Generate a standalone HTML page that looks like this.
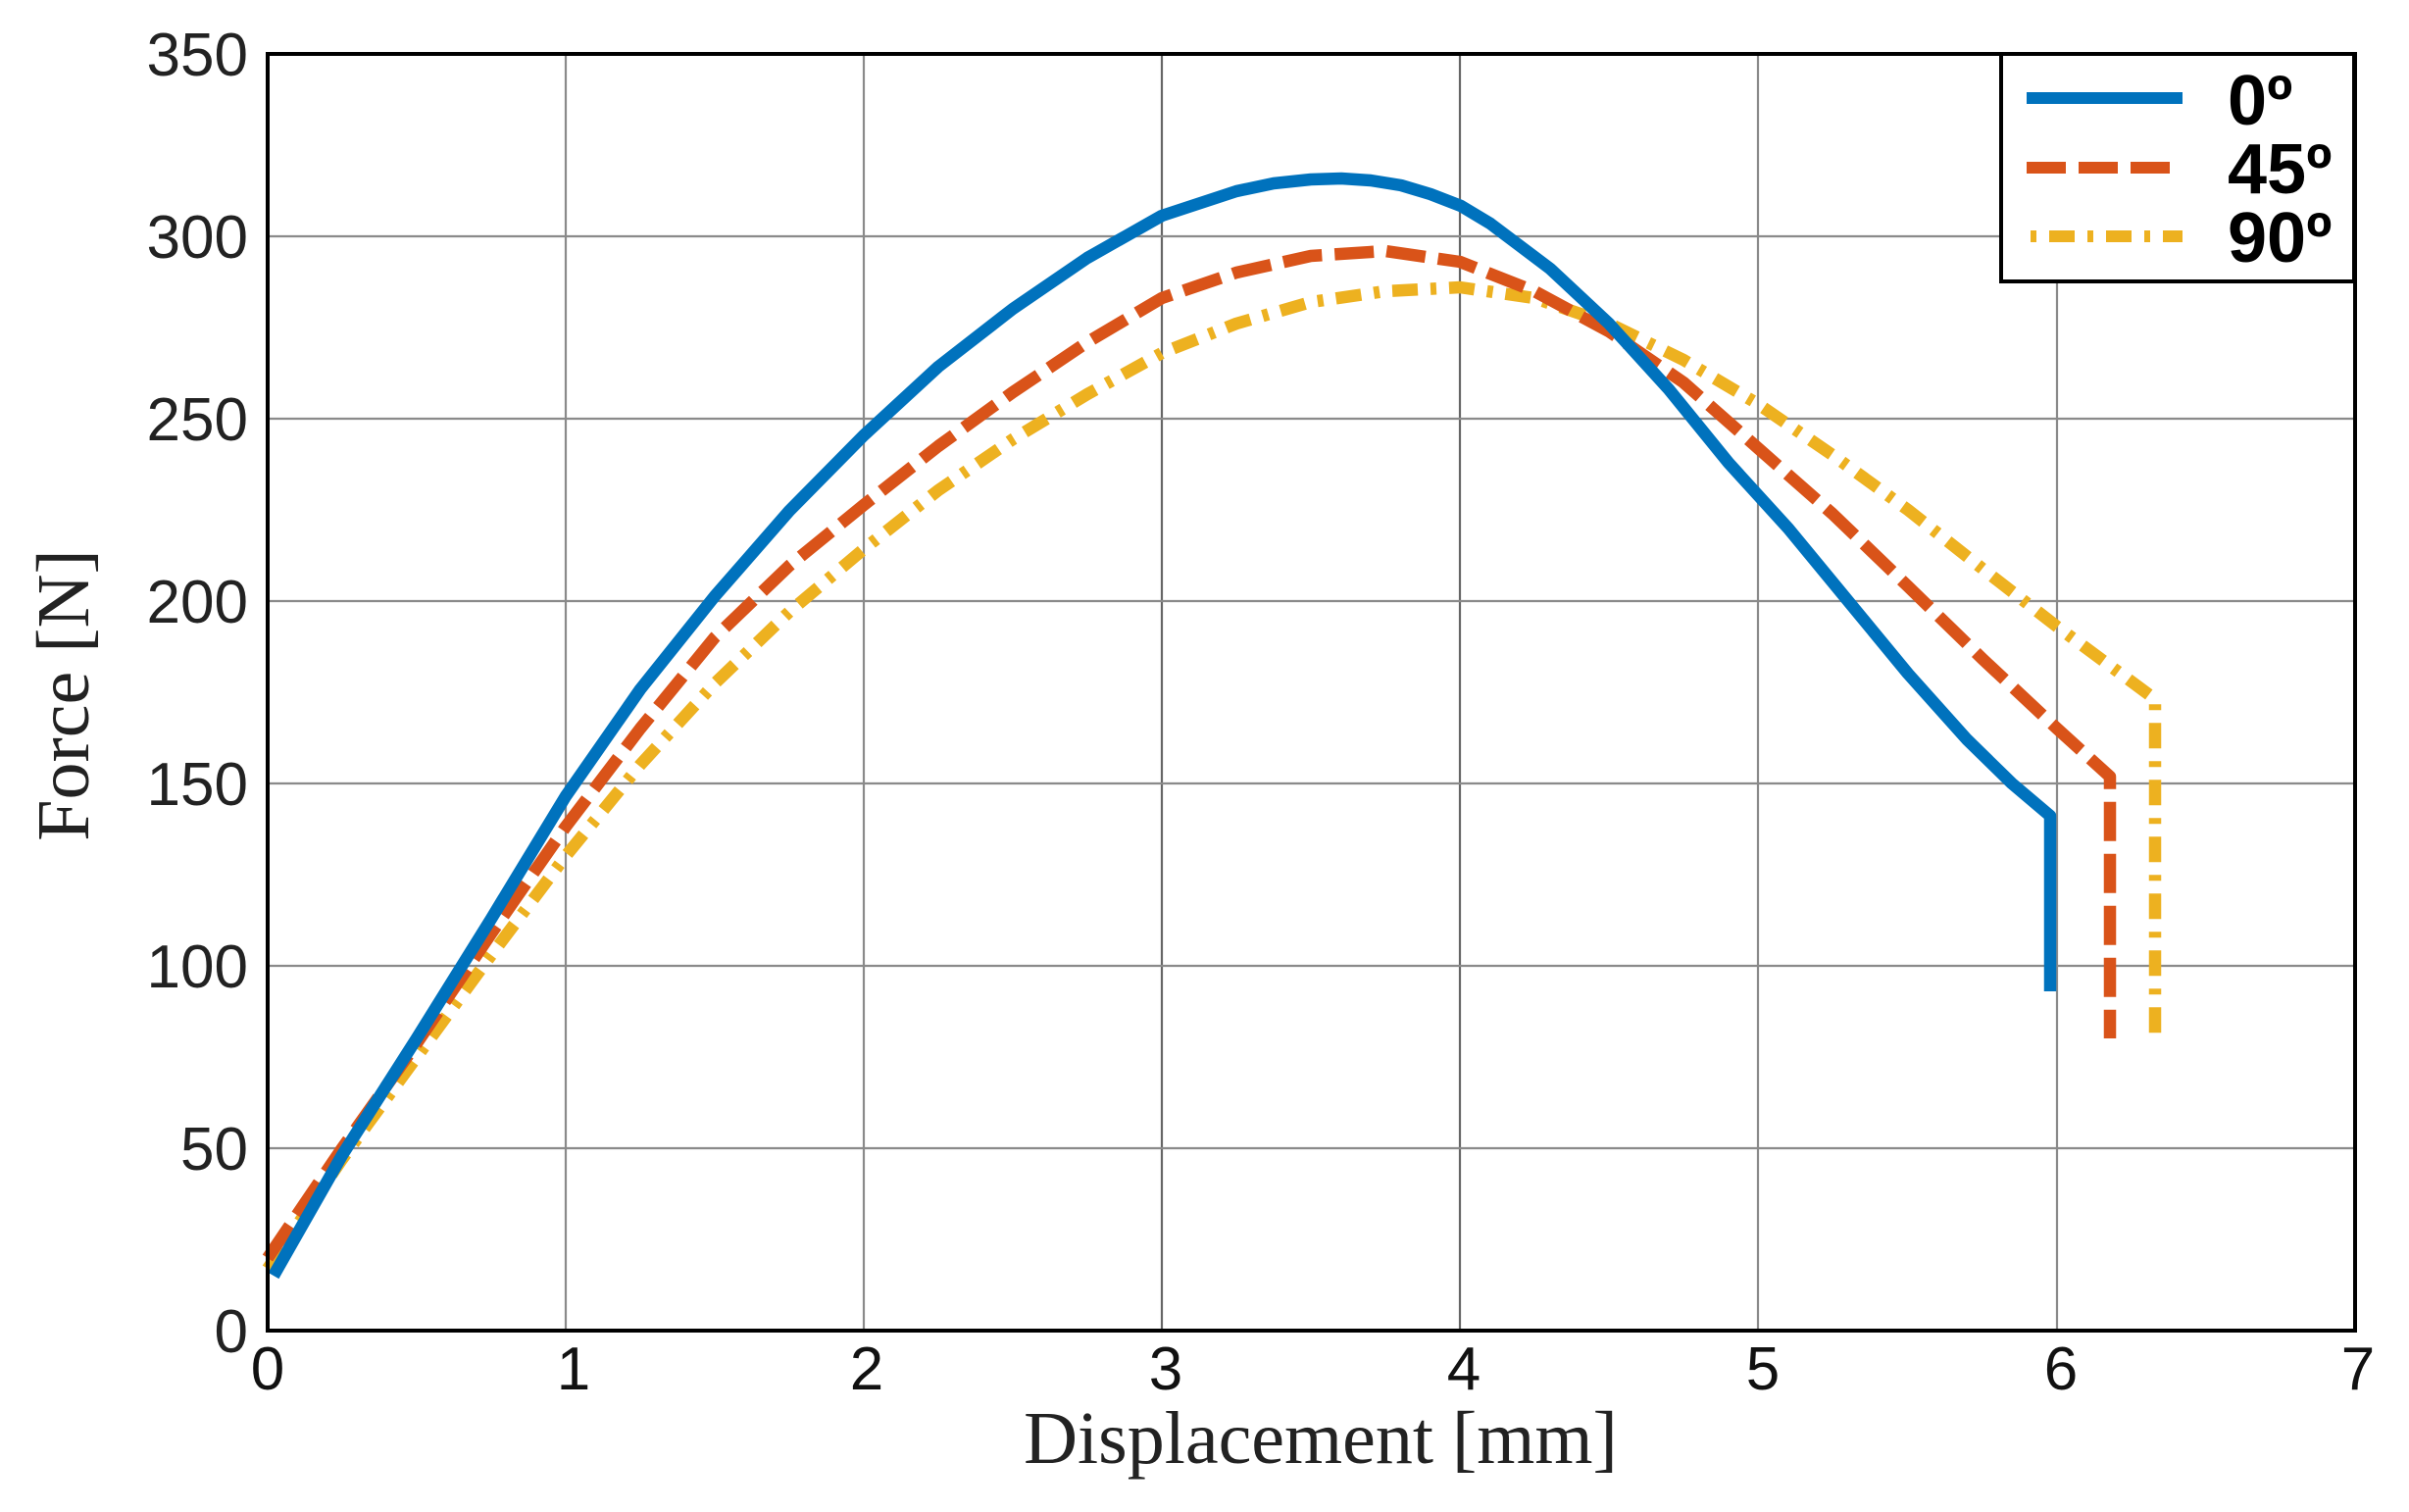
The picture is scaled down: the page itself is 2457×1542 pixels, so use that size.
<!DOCTYPE html>
<html><head><meta charset="utf-8"><style>
html,body{margin:0;padding:0;background:#fff;}
svg{display:block;}
</style></head><body>
<svg width="2457" height="1542" viewBox="0 0 2457 1542" xmlns="http://www.w3.org/2000/svg">
<rect width="2457" height="1542" fill="#fff"/>
<g stroke="#8a8a8a" stroke-width="2.2">
<line x1="577" y1="55" x2="577" y2="1357"/>
<line x1="881" y1="55" x2="881" y2="1357"/>
<line x1="1185" y1="55" x2="1185" y2="1357" stroke="#666"/>
<line x1="1489" y1="55" x2="1489" y2="1357" stroke="#666"/>
<line x1="1793" y1="55" x2="1793" y2="1357"/>
<line x1="2098" y1="55" x2="2098" y2="1357"/>
<line x1="273" y1="1171" x2="2402" y2="1171"/>
<line x1="273" y1="985" x2="2402" y2="985"/>
<line x1="273" y1="799" x2="2402" y2="799"/>
<line x1="273" y1="613" x2="2402" y2="613"/>
<line x1="273" y1="427" x2="2402" y2="427"/>
<line x1="273" y1="241" x2="2402" y2="241"/>
</g>
<g fill="none" stroke-width="12.5" stroke-linejoin="round">
<polyline stroke="#edb120" stroke-dasharray="26,13,6,13" points="273,1294 349,1182 425,1078 501,974 577,873 653,780 729,697 805,624 881,560 957,500 1033,448 1109,402 1185,360 1261,330 1337,308 1413,297 1489,293 1565,304 1641,330 1717,367 1793,412 1869,464 1946,520 2022,580 2098,639 2198,713 2198,1059"/>
<polyline stroke="#d95319" stroke-dasharray="40,13" points="273,1283 349,1171 425,1064 501,952 577,843 653,743 729,650 805,577 881,515 957,455 1033,400 1109,349 1185,304 1261,278 1337,261 1413,256 1489,267 1565,297 1641,338 1717,390 1793,457 1869,524 1946,598 2022,672 2098,743 2152,792 2152,1059"/>
<polyline stroke="#0072bd" points="279,1301 349,1178 425,1059 501,937 577,812 653,703 729,608 805,521 881,444 957,374 1033,315 1109,263 1185,220 1261,195 1299,187 1337,183 1368,182 1398,184 1429,189 1459,198 1490,210 1520,228 1581,274 1641,330 1702,397 1763,472 1824,539 1885,613 1946,687 2006,754 2052,799 2091,832 2091,1011"/>
</g>
<rect x="273" y="55" width="2129" height="1302" fill="none" stroke="#000" stroke-width="4"/>
<g font-family="Liberation Sans, sans-serif" font-size="62" fill="#222" text-anchor="end">
<text x="253" y="77">350</text>
<text x="253" y="263">300</text>
<text x="253" y="449">250</text>
<text x="253" y="635">200</text>
<text x="253" y="821">150</text>
<text x="253" y="1007">100</text>
<text x="253" y="1193">50</text>
<text x="253" y="1379">0</text>
</g>
<g font-family="Liberation Sans, sans-serif" font-size="62" fill="#111" text-anchor="middle">
<text x="273" y="1417">0</text>
<text x="585" y="1417">1</text>
<text x="884" y="1417">2</text>
<text x="1189" y="1417">3</text>
<text x="1493" y="1417">4</text>
<text x="1798" y="1417">5</text>
<text x="2102" y="1417">6</text>
<text x="2405" y="1417">7</text>
</g>
<text x="1347" y="1492" font-family="Liberation Serif, serif" font-size="76" fill="#222" text-anchor="middle">Displacement [mm]</text>
<text transform="translate(90,709) rotate(-90)" font-family="Liberation Serif, serif" font-size="76" fill="#222" text-anchor="middle">Force [N]</text>
<rect x="2041" y="55" width="360" height="232" fill="#fff" stroke="#000" stroke-width="4"/>
<line x1="2067" y1="100" x2="2226" y2="100" stroke="#0072bd" stroke-width="12"/>
<line x1="2067" y1="171" x2="2226" y2="171" stroke="#d95319" stroke-width="12" stroke-dasharray="40,13"/>
<line x1="2071" y1="241" x2="2226" y2="241" stroke="#edb120" stroke-width="12" stroke-dasharray="6,13,26,13"/>
<g font-family="Liberation Sans, sans-serif" font-size="72" font-weight="bold" fill="#000">
<text x="2272" y="127">0º</text>
<text x="2272" y="197">45º</text>
<text x="2272" y="267">90º</text>
</g>
</svg>
</body></html>
